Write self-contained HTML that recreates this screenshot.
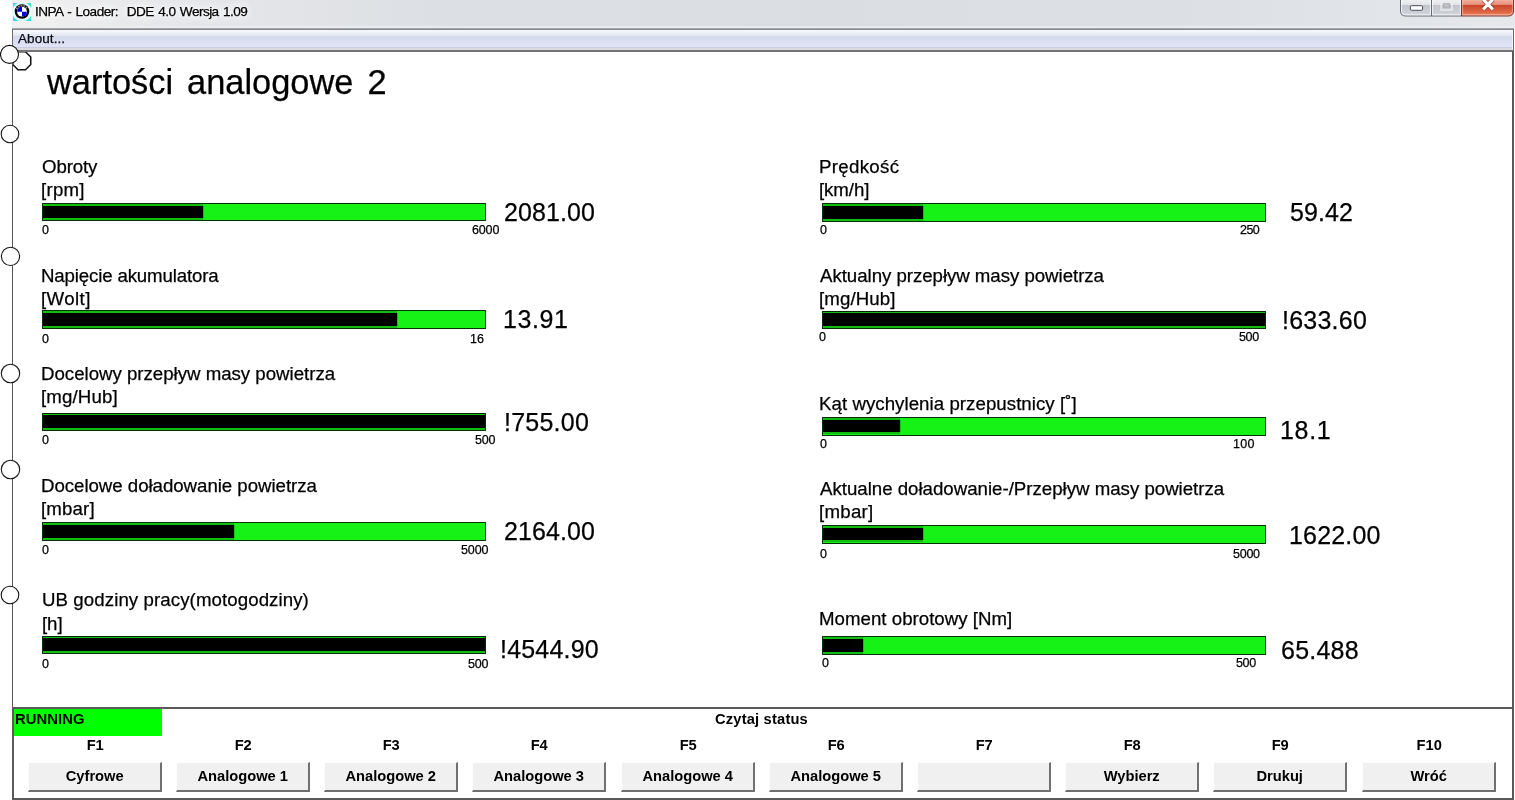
<!DOCTYPE html>
<html><head><meta charset="utf-8"><title>INPA - Loader: DDE 4.0 Wersja 1.09</title>
<style>
html,body{margin:0;padding:0;}
body{width:1515px;height:800px;overflow:hidden;background:#fff;position:relative;font-family:"Liberation Sans",sans-serif;color:#000;}
.t{position:absolute;white-space:nowrap;line-height:normal;will-change:transform;-webkit-text-stroke:0.25px #000;}
.abs{position:absolute;}
.bar{position:absolute;box-sizing:border-box;width:444px;border:1px solid #053205;background:#16f216;}
.fill{position:absolute;left:0;background:#000;box-shadow:0 2px 0 rgba(0,0,0,.22),0 -2px 0 rgba(0,0,0,.22),1px 0 0 rgba(0,0,0,.2);}
.circ{position:absolute;border:1.3px solid #111;border-radius:50%;background:#fff;box-sizing:border-box;}
.btn{position:absolute;top:762px;height:30px;width:134.4px;box-sizing:border-box;background:#f0f0f0;border-top:1px solid #fdfdfd;border-left:1px solid #fdfdfd;border-right:2px solid #707070;border-bottom:2px solid #707070;text-align:center;font-weight:bold;will-change:transform;}
.fk{position:absolute;font-weight:bold;text-align:center;width:134.4px;will-change:transform;}
</style></head><body>

<div class="abs" style="left:12px;top:0;width:1503px;height:29px;background:linear-gradient(to right,#f1f1f1 0%,#e6e7ea 10%,#dcdfe3 30%,#dadde2 55%,#dde0e5 80%,#e6e8eb 100%);"></div>
<svg class="abs" style="left:13px;top:3px" width="18" height="18" viewBox="0 0 18 18">
<rect width="18" height="18" fill="#33e0e0"/>
<circle cx="9" cy="8.7" r="9.7" fill="#dcfdfd"/>
<circle cx="9" cy="8.5" r="7.3" fill="#050505"/>
<path d="M3.6 6.2 A5.9 5.9 0 0 1 14.4 6.2" fill="none" stroke="#9a9a9a" stroke-width="1.6" stroke-dasharray="1.6 1.1"/>
<circle cx="9" cy="8.7" r="4.9" fill="#fff"/>
<path d="M9 8.7 L9 3.8 A4.9 4.9 0 0 0 4.1 8.7 Z" fill="#0000e0"/>
<path d="M9 8.7 L9 13.6 A4.9 4.9 0 0 0 13.9 8.7 Z" fill="#0000e0"/>
</svg>
<svg class="abs" style="left:1398px;top:0" width="117" height="19" viewBox="0 0 117 19">
<defs>
<linearGradient id="gb" x1="0" y1="0" x2="0" y2="1"><stop offset="0" stop-color="#f1f2f4"/><stop offset="0.32" stop-color="#e3e5e8"/><stop offset="0.37" stop-color="#c1c5cb"/><stop offset="0.85" stop-color="#ced1d7"/><stop offset="1" stop-color="#dfe1e5"/></linearGradient>
<linearGradient id="gr" x1="0" y1="0" x2="0" y2="1"><stop offset="0" stop-color="#f4b6a8"/><stop offset="0.32" stop-color="#e98f7b"/><stop offset="0.37" stop-color="#c9452a"/><stop offset="0.8" stop-color="#e06a48"/><stop offset="1" stop-color="#ee9a80"/></linearGradient>
</defs>
<path d="M2.5 -1 V11 Q2.5 16 8 16 H63.5 V-1 Z" fill="url(#gb)" stroke="#656a72" stroke-width="1"/>
<path d="M63.5 -1 V16 H110 Q115.5 16 115.5 11 V-1 Z" fill="url(#gr)" stroke="#6e3a32" stroke-width="1"/>
<path d="M3.6 0 V10.8 Q3.6 14.8 8 14.8 H32.4 V0 M34.6 0 V14.8 H62.4 V0" fill="none" stroke="#fff" stroke-opacity="0.75" stroke-width="1"/>
<path d="M64.6 0 V14.8 H109.8 Q114.4 14.8 114.4 10.8 V0" fill="none" stroke="#ffd0c0" stroke-opacity="0.55" stroke-width="1"/>
<line x1="33.5" y1="0" x2="33.5" y2="16" stroke="#656a72"/>
<rect x="12.4" y="5.7" width="12.2" height="4.6" rx="1.2" fill="#fff" stroke="#4a4e5e" stroke-width="1"/>
<rect x="43" y="-1" width="11" height="11" fill="none" stroke="#eceded" stroke-opacity="0.9" stroke-width="1.5"/>
<rect x="45.6" y="3.8" width="6" height="3.4" fill="#c4c6c9" stroke="#a9abaf" stroke-width="1"/>
<path d="M85.2 -0.5 L94.8 9.3 M94.8 -0.5 L85.2 9.3" stroke="#6a2a1e" stroke-opacity="0.6" stroke-width="5" fill="none"/>
<path d="M85.2 -0.5 L94.8 9.3 M94.8 -0.5 L85.2 9.3" stroke="#fff" stroke-width="3.2" fill="none"/>
</svg>
<svg class="abs" style="left:0;top:40px" width="40" height="40" viewBox="0 40 40 40"><polygon points="18.02,51.75 25.48,51.75 30.75,57.02 30.75,64.48 25.48,69.75 18.02,69.75 12.75,64.48 12.75,57.02" fill="#fff" stroke="#141414" stroke-width="1.55" stroke-linejoin="round"/></svg>
<div class="abs" style="left:12px;top:28px;width:1502px;height:24px;background:linear-gradient(to bottom,#a6a9ac 0px,#a6a9ac 1px,#83868a 1px,#83868a 2px,#fafbfe 2px,#f5f7fc 3px,#e3e7f4 7.5px,#d4d9ec 8.2px,#e0e4f6 18.8px,#cacddb 19.2px,#cacddb 20.1px,#dcdce0 20.5px,#dcdce0 22px,#737373 22px,#737373 24px);"></div>
<div class="abs" style="left:12px;top:29px;width:1px;height:23px;background:#6e6e6e;"></div>
<div class="abs" style="left:1512px;top:30px;width:1px;height:20px;background:#f4f5fa;"></div>
<div class="abs" style="left:1513px;top:29px;width:1px;height:23px;background:#666;"></div>
<div class="abs" style="left:12px;top:26px;width:1503px;height:2px;background:#eceef1;opacity:0.8;"></div>
<div class="abs" style="left:12px;top:52px;width:1px;height:748px;background:#555;"></div>
<div class="abs" style="left:12px;top:707px;width:2px;height:93px;background:#5a5a5a;"></div>
<div class="abs" style="left:1512px;top:51px;width:2px;height:749px;background:#58595b;"></div>
<div class="abs" style="left:12px;top:707px;width:1502px;height:2px;background:#5a5a5a;"></div>
<div class="abs" style="left:12px;top:798px;width:1502px;height:2px;background:#58595b;"></div>
<svg class="abs" style="left:0;top:0" width="24" height="620" viewBox="0 0 24 620"><circle cx="9.5" cy="54.4" r="9.0" fill="#fff" stroke="#141414" stroke-width="1.1"/><circle cx="10" cy="134" r="8.8" fill="#fff" stroke="#141414" stroke-width="1.1"/><circle cx="10.5" cy="256.4" r="9.1" fill="#fff" stroke="#141414" stroke-width="1.1"/><circle cx="10.5" cy="373.5" r="9.2" fill="#fff" stroke="#141414" stroke-width="1.1"/><circle cx="10.5" cy="469.5" r="9.2" fill="#fff" stroke="#141414" stroke-width="1.1"/><circle cx="10" cy="595" r="8.8" fill="#fff" stroke="#141414" stroke-width="1.1"/></svg>
<div class="bar" style="left:42px;top:203px;height:18.0px;"><div class="fill" style="top:2.0px;height:12.0px;width:160.0px"></div></div>
<div class="bar" style="left:42px;top:310px;height:18.6px;"><div class="fill" style="top:2.0px;height:12.5px;width:354.0px"></div></div>
<div class="bar" style="left:42px;top:413px;height:18.0px;"><div class="fill" style="top:1.2px;height:12.7px;width:442.0px"></div></div>
<div class="bar" style="left:42px;top:522px;height:18.5px;"><div class="fill" style="top:2.0px;height:12.5px;width:191.0px"></div></div>
<div class="bar" style="left:42px;top:636px;height:18.0px;"><div class="fill" style="top:1.0px;height:13.0px;width:442.0px"></div></div>
<div class="bar" style="left:822px;top:203px;height:18.5px;"><div class="fill" style="top:2.0px;height:12.5px;width:100.0px"></div></div>
<div class="bar" style="left:822px;top:311px;height:18.0px;"><div class="fill" style="top:1.2px;height:12.4px;width:442.0px"></div></div>
<div class="bar" style="left:822px;top:417px;height:18.8px;"><div class="fill" style="top:2.2px;height:11.9px;width:77.0px"></div></div>
<div class="bar" style="left:822px;top:525px;height:18.5px;"><div class="fill" style="top:1.7px;height:12.6px;width:100.0px"></div></div>
<div class="bar" style="left:822px;top:636px;height:18.5px;"><div class="fill" style="top:2.2px;height:12.7px;width:40.0px"></div></div>
<div class="abs" style="left:14px;top:709px;width:148px;height:27px;background:#00ff00;"></div>
<div class="t" style="left:47.30px;top:63.00px;font-size:34.4px;word-spacing:4.40px;">wartości analogowe 2</div>
<div class="t" style="left:41.60px;top:156.00px;font-size:18.67px;letter-spacing:-0.112px;">Obroty</div>
<div class="t" style="left:40.90px;top:178.80px;font-size:18.67px;letter-spacing:0.247px;">[rpm]</div>
<div class="t" style="left:40.90px;top:264.80px;font-size:18.67px;letter-spacing:-0.146px;">Napięcie akumulatora</div>
<div class="t" style="left:41.30px;top:287.90px;font-size:18.67px;letter-spacing:0.408px;">[Wolt]</div>
<div class="t" style="left:41.30px;top:362.80px;font-size:18.67px;letter-spacing:-0.012px;">Docelowy przepływ masy powietrza</div>
<div class="t" style="left:40.90px;top:385.90px;font-size:18.67px;letter-spacing:0.127px;">[mg/Hub]</div>
<div class="t" style="left:41.30px;top:475.40px;font-size:18.67px;letter-spacing:-0.035px;">Docelowe doładowanie powietrza</div>
<div class="t" style="left:40.90px;top:498.20px;font-size:18.67px;letter-spacing:0.162px;">[mbar]</div>
<div class="t" style="left:42.30px;top:589.40px;font-size:18.67px;letter-spacing:0.086px;">UB godziny pracy(motogodziny)</div>
<div class="t" style="left:41.90px;top:613.00px;font-size:18.67px;letter-spacing:-0.080px;">[h]</div>
<div class="t" style="left:819.20px;top:155.80px;font-size:18.67px;letter-spacing:0.323px;">Prędkość</div>
<div class="t" style="left:818.90px;top:178.70px;font-size:18.67px;letter-spacing:-0.082px;">[km/h]</div>
<div class="t" style="left:819.50px;top:264.80px;font-size:18.67px;letter-spacing:-0.037px;">Aktualny przepływ masy powietrza</div>
<div class="t" style="left:818.90px;top:287.60px;font-size:18.67px;letter-spacing:0.113px;">[mg/Hub]</div>
<div class="t" style="left:818.90px;top:392.60px;font-size:18.67px;letter-spacing:0.052px;">Kąt wychylenia przepustnicy [˚]</div>
<div class="t" style="left:819.50px;top:477.80px;font-size:18.67px;letter-spacing:-0.005px;">Aktualne doładowanie-/Przepływ masy powietrza</div>
<div class="t" style="left:818.50px;top:501.20px;font-size:18.67px;letter-spacing:0.282px;">[mbar]</div>
<div class="t" style="left:818.90px;top:607.75px;font-size:18.67px;letter-spacing:0.023px;">Moment obrotowy [Nm]</div>
<div class="t" style="left:503.70px;top:197.50px;font-size:25.0px;letter-spacing:0.106px;">2081.00</div>
<div class="t" style="left:503.30px;top:305.00px;font-size:25.0px;letter-spacing:0.6px;">13.91</div>
<div class="t" style="left:504.00px;top:407.80px;font-size:25.0px;letter-spacing:0.232px;">!755.00</div>
<div class="t" style="left:503.70px;top:517.00px;font-size:25.0px;letter-spacing:0.106px;">2164.00</div>
<div class="t" style="left:500.00px;top:634.70px;font-size:25.0px;letter-spacing:0.198px;">!4544.90</div>
<div class="t" style="left:1290.00px;top:197.70px;font-size:25.0px;letter-spacing:0.086px;">59.42</div>
<div class="t" style="left:1282.00px;top:305.80px;font-size:25.0px;letter-spacing:0.232px;">!633.60</div>
<div class="t" style="left:1280.40px;top:415.80px;font-size:25.0px;letter-spacing:0.7px;">18.1</div>
<div class="t" style="left:1289.30px;top:520.80px;font-size:25.0px;letter-spacing:0.17px;">1622.00</div>
<div class="t" style="left:1281.30px;top:635.70px;font-size:25.0px;letter-spacing:0.228px;">65.488</div>
<div class="t" style="left:41.90px;top:222.90px;font-size:12.5px;">0</div>
<div class="t" style="left:472.30px;top:222.90px;font-size:12.5px;letter-spacing:-0.152px;">6000</div>
<div class="t" style="left:41.90px;top:331.90px;font-size:12.5px;">0</div>
<div class="t" style="left:470.30px;top:331.90px;font-size:12.5px;">16</div>
<div class="t" style="left:41.90px;top:432.80px;font-size:12.5px;">0</div>
<div class="t" style="left:475.00px;top:432.80px;font-size:12.5px;letter-spacing:-0.252px;">500</div>
<div class="t" style="left:41.90px;top:542.80px;font-size:12.5px;">0</div>
<div class="t" style="left:461.10px;top:542.80px;font-size:12.5px;letter-spacing:-0.119px;">5000</div>
<div class="t" style="left:41.90px;top:656.90px;font-size:12.5px;">0</div>
<div class="t" style="left:468.00px;top:656.90px;font-size:12.5px;letter-spacing:-0.152px;">500</div>
<div class="t" style="left:819.70px;top:222.90px;font-size:12.5px;">0</div>
<div class="t" style="left:1239.50px;top:222.90px;font-size:12.5px;letter-spacing:-0.552px;">250</div>
<div class="t" style="left:819.40px;top:329.80px;font-size:12.5px;">0</div>
<div class="t" style="left:1239.10px;top:329.90px;font-size:12.5px;letter-spacing:-0.352px;">500</div>
<div class="t" style="left:819.70px;top:436.80px;font-size:12.5px;">0</div>
<div class="t" style="left:1232.50px;top:436.60px;font-size:12.5px;letter-spacing:0.3px;">100</div>
<div class="t" style="left:819.70px;top:546.80px;font-size:12.5px;">0</div>
<div class="t" style="left:1233.20px;top:546.90px;font-size:12.5px;letter-spacing:-0.252px;">5000</div>
<div class="t" style="left:822.30px;top:656.00px;font-size:12.5px;">0</div>
<div class="t" style="left:1236.10px;top:656.00px;font-size:12.5px;letter-spacing:-0.352px;">500</div>
<div class="t" style="left:35.30px;top:4.40px;font-size:13.6px;letter-spacing:-0.55px;word-spacing:1.2px;text-shadow:0 0 5px #fff,0 0 9px #fff,0 0 12px #fff;">INPA - Loader:&nbsp; DDE 4.0 Wersja 1.09</div>
<div class="t" style="left:18.40px;top:30.80px;font-size:13.5px;letter-spacing:0.074px;color:#101018;">About...</div>
<div class="t" style="left:15.30px;top:710.60px;font-size:14.8px;font-weight:bold;letter-spacing:0.077px;-webkit-text-stroke:0;">RUNNING</div>
<div class="t" style="left:714.90px;top:710.80px;font-size:14.7px;font-weight:bold;letter-spacing:0.181px;-webkit-text-stroke:0;">Czytaj status</div>
<div class="fk" style="left:27.7px;top:737px;font-size:14.7px;">F1</div>
<div class="btn" style="left:27.7px;font-size:14.7px;line-height:normal;padding-top:4.80px;">Cyfrowe</div>
<div class="fk" style="left:175.9px;top:737px;font-size:14.7px;">F2</div>
<div class="btn" style="left:175.9px;font-size:14.7px;line-height:normal;padding-top:4.80px;">Analogowe 1</div>
<div class="fk" style="left:324.1px;top:737px;font-size:14.7px;">F3</div>
<div class="btn" style="left:324.1px;font-size:14.7px;line-height:normal;padding-top:4.80px;">Analogowe 2</div>
<div class="fk" style="left:472.3px;top:737px;font-size:14.7px;">F4</div>
<div class="btn" style="left:472.3px;font-size:14.7px;line-height:normal;padding-top:4.80px;">Analogowe 3</div>
<div class="fk" style="left:620.5px;top:737px;font-size:14.7px;">F5</div>
<div class="btn" style="left:620.5px;font-size:14.7px;line-height:normal;padding-top:4.80px;">Analogowe 4</div>
<div class="fk" style="left:768.7px;top:737px;font-size:14.7px;">F6</div>
<div class="btn" style="left:768.7px;font-size:14.7px;line-height:normal;padding-top:4.80px;">Analogowe 5</div>
<div class="fk" style="left:916.9px;top:737px;font-size:14.7px;">F7</div>
<div class="btn" style="left:916.9px;font-size:14.7px;line-height:normal;padding-top:4.80px;"></div>
<div class="fk" style="left:1065.1px;top:737px;font-size:14.7px;">F8</div>
<div class="btn" style="left:1065.1px;font-size:14.7px;line-height:normal;padding-top:4.80px;">Wybierz</div>
<div class="fk" style="left:1213.3px;top:737px;font-size:14.7px;">F9</div>
<div class="btn" style="left:1213.3px;font-size:14.7px;line-height:normal;padding-top:4.80px;">Drukuj</div>
<div class="fk" style="left:1361.5px;top:737px;font-size:14.7px;">F10</div>
<div class="btn" style="left:1361.5px;font-size:14.7px;line-height:normal;padding-top:4.80px;">Wróć</div>
</body></html>
